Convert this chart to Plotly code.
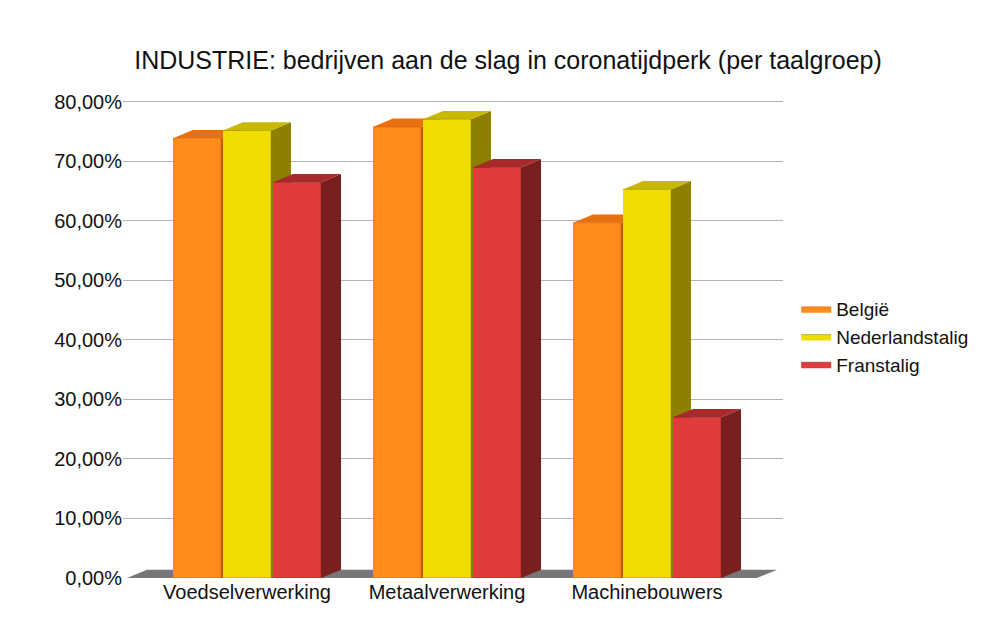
import plotly.graph_objects as go

categories = ['Voedselverwerking', 'Metaalverwerking', 'Machinebouwers']
belgie = [73.9, 75.8, 59.7]
nederlandstalig = [75.2, 77.1, 65.3]
franstalig = [66.5, 69.0, 27.0]

series = [
    ('België', belgie, '#ff8c1a', '#c85a0e', '#e8700f'),
    ('Nederlandstalig', nederlandstalig, '#f0dc00', '#8c8000', '#c8b800'),
    ('Franstalig', franstalig, '#e03c3c', '#7a1f1f', '#a82a2a'),
]

w = 0.24      # bar width
dx = 0.1      # depth in x
dy = 1.4      # depth in y (%)
offsets = [-0.25, 0.0, 0.25]

fig = go.Figure()

# vloer
fig.add_trace(go.Scatter(x=[-0.6, 2.55, 2.55 + dx, -0.6 + dx], y=[0, 0, dy, dy],
                         fill='toself', mode='lines', line=dict(width=0),
                         fillcolor='#777777', showlegend=False, hoverinfo='skip'))

for ci in range(len(categories)):
    for si, (name, vals, front, side, top) in enumerate(series):
        v = vals[ci]
        x0 = ci + offsets[si] - w / 2
        x1 = ci + offsets[si] + w / 2
        # zijkant
        fig.add_trace(go.Scatter(x=[x1, x1 + dx, x1 + dx, x1], y=[0, dy, v + dy, v],
                                 fill='toself', mode='lines', line=dict(width=0),
                                 fillcolor=side, showlegend=False, hoverinfo='skip'))
        # bovenkant
        fig.add_trace(go.Scatter(x=[x0, x1, x1 + dx, x0 + dx], y=[v, v, v + dy, v + dy],
                                 fill='toself', mode='lines', line=dict(width=0),
                                 fillcolor=top, showlegend=False, hoverinfo='skip'))
        # voorkant
        fig.add_trace(go.Scatter(x=[x0, x1, x1, x0], y=[0, 0, v, v],
                                 fill='toself', mode='lines', line=dict(width=0.5, color=side),
                                 fillcolor=front, name=name, legendgroup=name,
                                 showlegend=(ci == 0), hovertext=f'{v}%'))

fig.update_layout(
    width=1000, height=625,
    paper_bgcolor='white', plot_bgcolor='white',
    font=dict(family='Liberation Sans, Arial', size=20, color='#111111'),
    title=dict(text='INDUSTRIE: bedrijven aan de slag in coronatijdperk (per taalgroep)',
               x=0.5, y=0.93, font=dict(size=25)),
    margin=dict(l=115, r=225, t=88, b=55),
    separators=',.',
    legend=dict(x=1.02, y=0.5, yanchor='middle', font=dict(size=19), tracegroupgap=0),
    xaxis=dict(range=[-0.62, 2.68], tickvals=[0, 1, 2], ticktext=categories,
               showgrid=False, zeroline=False, showline=False),
    yaxis=dict(range=[0, 81], tickvals=[0, 10, 20, 30, 40, 50, 60, 70, 80],
               ticktext=['0,00%', '10,00%', '20,00%', '30,00%', '40,00%', '50,00%',
                         '60,00%', '70,00%', '80,00%'],
               showgrid=True, gridcolor='#b3b3b3', zeroline=False, showline=False),
)

fig.write_html('out.html')
